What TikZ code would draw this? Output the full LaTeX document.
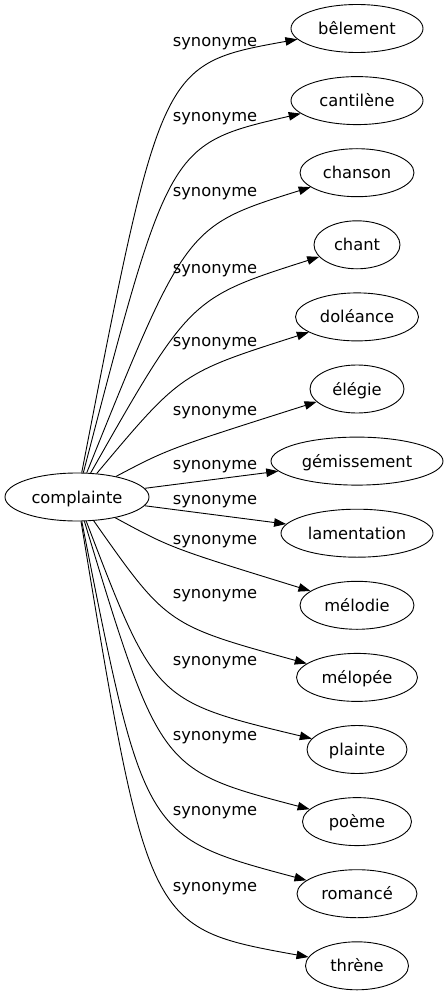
\documentclass[tikz,border=0pt]{standalone}
\usepackage{fontspec}
\setmainfont{DejaVu Sans}
\usetikzlibrary{arrows.meta,shapes.geometric}
\begin{document}
\begin{tikzpicture}[x=1pt,y=-1pt,
  every node/.style={font=\fontsize{16.3pt}{19pt}\selectfont},
  word/.style={ellipse,draw,line width=0.9pt,inner sep=0pt,minimum height=48pt,text height=12pt,text depth=0pt},
  lbl/.style={anchor=base,inner sep=0pt},
  edge/.style={line width=0.9pt,-{Triangle[length=12pt,width=8.5pt]}}]
\useasboundingbox (0,0) rectangle (445,995);
\node[word,minimum width=144pt] (c) at (77,497) {complainte};
\node[word,minimum width=132pt] (t1) at (357,28.5) {bêlement};
\node[word,minimum width=132pt] (t2) at (357,100.6) {cantilène};
\node[word,minimum width=114pt] (t3) at (357,172.7) {chanson};
\node[word,minimum width=86pt] (t4) at (357,244.8) {chant};
\node[word,minimum width=123pt] (t5) at (357,316.9) {doléance};
\node[word,minimum width=94pt] (t6) at (357,389) {élégie};
\node[word,minimum width=172pt] (t7) at (357,461.1) {gémissement};
\node[word,minimum width=152pt] (t8) at (357,533.2) {lamentation};
\node[word,minimum width=114pt] (t9) at (357,605.3) {mélodie};
\node[word,minimum width=121pt] (t10) at (357,677.4) {mélopée};
\node[word,minimum width=100pt] (t11) at (357,749.5) {plainte};
\node[word,minimum width=109pt] (t12) at (357,821.6) {poème};
\node[word,minimum width=120pt] (t13) at (357,893.7) {romancé};
\node[word,minimum width=103pt] (t14) at (357,965.8) {thrène};
\node[lbl] (l1) at (215,47) {synonyme};
\node[lbl] (l2) at (215,121.5) {synonyme};
\node[lbl] (l3) at (215,196.5) {synonyme};
\node[lbl] (l4) at (215,273.5) {synonyme};
\node[lbl] (l5) at (215,346.5) {synonyme};
\node[lbl] (l6) at (215,415.5) {synonyme};
\node[lbl] (l7) at (215,469.5) {synonyme};
\node[lbl] (l8) at (215,504.5) {synonyme};
\node[lbl] (l9) at (215,544.5) {synonyme};
\node[lbl] (l10) at (215,598.5) {synonyme};
\node[lbl] (l11) at (215,665.5) {synonyme};
\node[lbl] (l12) at (215,740.5) {synonyme};
\node[lbl] (l13) at (215,815.5) {synonyme};
\node[lbl] (l14) at (215,891.5) {synonyme};
\draw[edge] (c) .. controls (161,64) .. (t1);
\draw[edge] (c) .. controls (169,144) .. (t2);
\draw[edge] (c) .. controls (186,226) .. (t3);
\draw[edge] (c) .. controls (190,298) .. (t4);
\draw[edge] (c) .. controls (181,373) .. (t5);
\draw[edge] (c) .. controls (168,449) .. (t6);
\draw[edge] (c) -- (t7);
\draw[edge] (c) -- (t8);
\draw[edge] (c) .. controls (171,548) .. (t9);
\draw[edge] (c) .. controls (167,625) .. (t10);
\draw[edge] (c) .. controls (155,701) .. (t11);
\draw[edge] (c) .. controls (160,770) .. (t12);
\draw[edge] (c) .. controls (144,837) .. (t13);
\draw[edge] (c) .. controls (148,928) .. (t14);
\end{tikzpicture}
\end{document}
